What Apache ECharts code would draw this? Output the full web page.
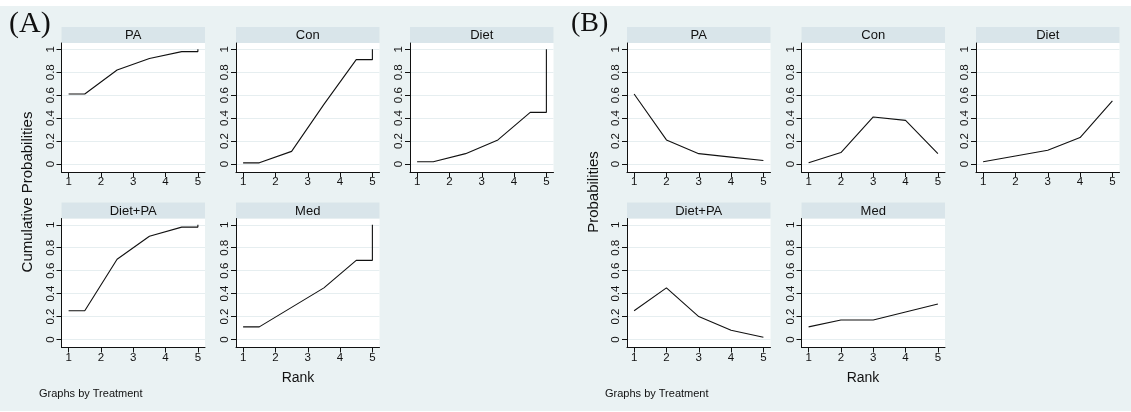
<!DOCTYPE html>
<html>
<head>
<meta charset="utf-8">
<script src="https://cdn.jsdelivr.net/npm/echarts@6/dist/echarts.min.js"></script>
<style>
html,body{margin:0;padding:0;background:#fff;}
#c{width:1131px;height:412px;}
</style>
</head>
<body>
<div id="c"></div>
<script>
// ---- data ----
const treatments = ['PA', 'Con', 'Diet', 'Diet+PA', 'Med'];
const ranks = [1, 2, 3, 4, 5];
const stepRanks = [1, 1.5, 2.5, 3.5, 4.5, 5, 5];
const rankTicks = [1, 2, 3, 4, 5];
const probTicks = [0, 0.2, 0.4, 0.6, 0.8, 1];

// Panel (A): cumulative probabilities (step curves)
const cumPA     = [0.61, 0.61, 0.82, 0.92, 0.98, 0.98, 1];
const cumCon    = [0.01, 0.01, 0.11, 0.52, 0.91, 0.91, 1];
const cumDiet   = [0.02, 0.02, 0.09, 0.21, 0.45, 0.45, 1];
const cumDietPA = [0.25, 0.25, 0.70, 0.90, 0.98, 0.98, 1];
const cumMed    = [0.11, 0.11, 0.28, 0.45, 0.69, 0.69, 1];

// Panel (B): rank probabilities
const probPA     = [0.61, 0.21, 0.09, 0.06, 0.03];
const probCon    = [0.01, 0.10, 0.41, 0.38, 0.09];
const probDiet   = [0.02, 0.07, 0.12, 0.23, 0.55];
const probDietPA = [0.25, 0.45, 0.20, 0.08, 0.02];
const probMed    = [0.11, 0.17, 0.17, 0.24, 0.31];

const cumSeries = [cumPA, cumCon, cumDiet, cumDietPA, cumMed];
const probSeries = [probPA, probCon, probDiet, probDietPA, probMed];

// ---- layout ----
const BG = '#eaf2f3', STRIP = '#d9e5ea', GRIDLINE = '#e6eef0', INK = '#111';
const panelCols = { A: [61.5, 236, 410], B: [627, 801.5, 976] };
const colW = 143.5;
const rowTop = [43, 218.5];
const rowH = 129;
const stripH = 16;
const FONT = 'Liberation Sans, Arial, Helvetica, sans-serif';

const grids = [], xAxes = [], yAxes = [], series = [], graphics = [];
graphics.push({ type: 'rect', shape: { x: 0, y: 6, width: 1131, height: 405 }, style: { fill: BG }, z: -10, silent: true });

function addPanel(key, isCum) {
  const cols = panelCols[key];
  treatments.forEach((t, i) => {
    const r = Math.floor(i / 3), c = i % 3;
    const left = cols[c], top = rowTop[r];
    const gi = grids.length;
    grids.push({ left: left, top: top, width: colW, height: rowH, show: true, backgroundColor: '#fff', borderWidth: 0 });
    xAxes.push({
      type: 'value', gridIndex: gi, min: 0.78, max: 5.22,
      axisLine: { show: true, onZero: false, lineStyle: { color: INK, width: 1 } },
      axisTick: { show: true, length: 5, customValues: rankTicks, lineStyle: { color: INK } },
      axisLabel: { customValues: rankTicks, color: INK, fontSize: 11.5, fontFamily: FONT, margin: 4 },
      splitLine: { show: false }
    });
    yAxes.push({
      type: 'value', gridIndex: gi, min: -0.07, max: 1.055,
      axisLine: { show: true, onZero: false, lineStyle: { color: INK, width: 1 } },
      axisTick: { show: true, length: 5, customValues: probTicks, lineStyle: { color: INK } },
      axisLabel: { customValues: probTicks, rotate: 90, color: INK, fontSize: 11.5, fontFamily: FONT, margin: 5 },
      splitLine: { show: true, lineStyle: { color: GRIDLINE, width: 1 } }
    });
    const data = isCum
      ? stepRanks.map((x, k) => [x, cumSeries[i][k]])
      : ranks.map((x, k) => [x, probSeries[i][k]]);
    series.push({
      type: 'line', xAxisIndex: gi, yAxisIndex: gi, data: data,
      showSymbol: false, symbol: 'none', animation: false,
      lineStyle: { color: INK, width: 1.1 }
    });
    graphics.push({ type: 'rect', shape: { x: left, y: top - stripH, width: colW, height: stripH }, style: { fill: STRIP }, silent: true });
    graphics.push({ type: 'text', x: left + colW / 2, y: top - stripH / 2 + 0.5, style: { text: t, font: '13px ' + FONT, fill: '#111', textAlign: 'center', textVerticalAlign: 'middle' }, silent: true });
  });
}
addPanel('A', true);
addPanel('B', false);

// titles and notes
graphics.push({ type: 'text', x: 9, y: 24, style: { text: '(A)', font: '30px Liberation Serif, Times New Roman, serif', fill: '#111', textAlign: 'left', textVerticalAlign: 'middle' }, silent: true });
graphics.push({ type: 'text', x: 571, y: 24, style: { text: '(B)', font: '28px Liberation Serif, Times New Roman, serif', fill: '#111', textAlign: 'left', textVerticalAlign: 'middle' }, silent: true });
graphics.push({ type: 'text', x: 28, y: 192, rotation: Math.PI / 2, style: { text: 'Cumulative Probabilities', font: '15px ' + FONT, fill: '#111', textAlign: 'center', textVerticalAlign: 'middle' }, silent: true });
graphics.push({ type: 'text', x: 594, y: 192, rotation: Math.PI / 2, style: { text: 'Probabilities', font: '15px ' + FONT, fill: '#111', textAlign: 'center', textVerticalAlign: 'middle' }, silent: true });
graphics.push({ type: 'text', x: 298, y: 378, style: { text: 'Rank', font: '14px ' + FONT, fill: '#111', textAlign: 'center', textVerticalAlign: 'middle' }, silent: true });
graphics.push({ type: 'text', x: 863, y: 378, style: { text: 'Rank', font: '14px ' + FONT, fill: '#111', textAlign: 'center', textVerticalAlign: 'middle' }, silent: true });
graphics.push({ type: 'text', x: 39, y: 394, style: { text: 'Graphs by Treatment', font: '11px ' + FONT, fill: '#111', textAlign: 'left', textVerticalAlign: 'middle' }, silent: true });
graphics.push({ type: 'text', x: 605, y: 394, style: { text: 'Graphs by Treatment', font: '11px ' + FONT, fill: '#111', textAlign: 'left', textVerticalAlign: 'middle' }, silent: true });

const chart = echarts.init(document.getElementById('c'), null, { renderer: 'canvas' });
chart.setOption({
  animation: false,
  backgroundColor: '#fff',
  grid: grids, xAxis: xAxes, yAxis: yAxes, series: series,
  graphic: graphics
});
</script>
</body>
</html>
